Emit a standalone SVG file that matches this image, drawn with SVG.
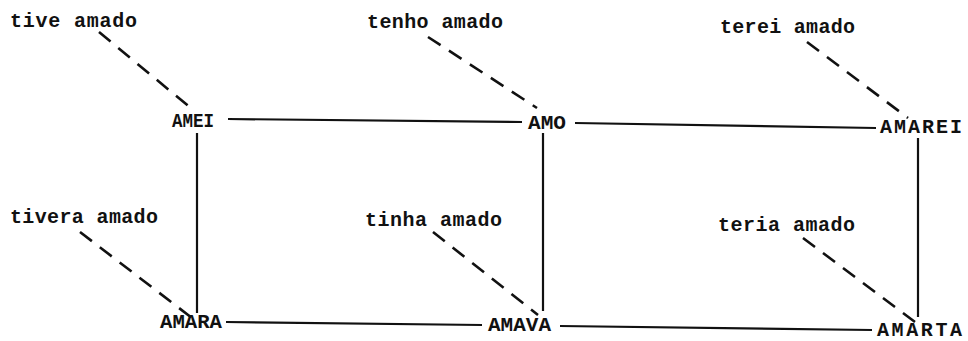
<svg xmlns="http://www.w3.org/2000/svg" width="968" height="341" viewBox="0 0 968 341">
<style>
text{font-family:"Liberation Mono","Courier New",monospace;font-weight:bold;fill:#111;}
.lbl{font-size:20px;}
.node{font-size:20px;}
.solid{stroke:#111;stroke-width:2.2;fill:none;}
.dash{stroke:#111;stroke-width:2.6;fill:none;stroke-dasharray:15 10;}
</style>
<rect width="968" height="341" fill="#fff"/>
<g id="connectors">
<line class="solid" x1="228" y1="119" x2="522" y2="122"/>
<line class="solid" x1="575" y1="123" x2="876" y2="128"/>
<line class="solid" x1="226" y1="322" x2="482" y2="325"/>
<line class="solid" x1="560" y1="326" x2="872" y2="330"/>
<line class="solid" x1="197" y1="133" x2="197" y2="313"/>
<line class="solid" x1="543" y1="133" x2="543" y2="311"/>
<line class="solid" x1="918" y1="138" x2="918" y2="317"/>
<line class="dash" x1="99" y1="32" x2="192" y2="109"/>
<line class="dash" x1="428" y1="37" x2="537" y2="108"/>
<line class="dash" x1="807" y1="42" x2="908" y2="118"/>
<line class="dash" x1="80" y1="232" x2="192" y2="318"/>
<line class="dash" x1="433" y1="232" x2="538" y2="315"/>
<line class="dash" x1="803" y1="238" x2="915" y2="322"/>
</g>
<g id="tive"><text class="lbl" x="10" y="27" textLength="127">tive amado</text></g>
<g id="tenho"><text class="lbl" x="367" y="28" textLength="136">tenho amado</text></g>
<g id="terei"><text class="lbl" x="720" y="33" textLength="135">terei amado</text></g>
<g id="tivera"><text class="lbl" x="10" y="223" textLength="148">tivera amado</text></g>
<g id="tinha"><text class="lbl" x="365" y="226" textLength="137">tinha amado</text></g>
<g id="teria"><text class="lbl" x="718" y="231" textLength="137">teria amado</text></g>
<g id="amei"><text class="node" x="172" y="127" textLength="42" lengthAdjust="spacingAndGlyphs">AMEI</text></g>
<g id="amo"><text class="node" x="528" y="129" textLength="38" lengthAdjust="spacingAndGlyphs">AMO</text></g>
<g id="amarei"><text class="node" x="880" y="133" textLength="82">AMAREI</text></g>
<g id="amara"><text class="node" x="160" y="328" textLength="62" lengthAdjust="spacingAndGlyphs">AMARA</text></g>
<g id="amava"><text class="node" x="488" y="331" textLength="63" lengthAdjust="spacingAndGlyphs">AMAVA</text></g>
<g id="amarta"><text class="node" x="877" y="336" textLength="85">AMARTA</text></g>
</svg>
